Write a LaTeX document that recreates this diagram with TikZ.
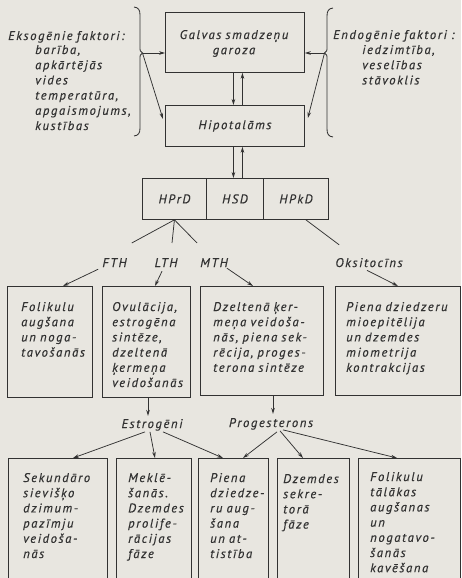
\documentclass[tikz,border=0pt]{standalone}
\usepackage{fontspec}
\setmainfont{PT Sans}
\newfontfamily\lbl[LetterSpace=13,FakeBold=0.5]{PT Sans}
\usetikzlibrary{arrows.meta,calc}
\definecolor{paper}{RGB}{232,230,224}
\definecolor{ink}{RGB}{50,50,50}

\begin{document}
\begin{tikzpicture}[x=1pt,y=-1pt,
  font=\lbl\itshape\fontsize{12.6}{15.2}\selectfont,
  box/.style={draw=ink, line width=0.85pt, inner sep=0pt, rectangle, anchor=north west, text=ink},
  txt/.style={text=ink, inner sep=0pt, text width=#1, align=left, anchor=base west},
  txt/.default=130pt,
  ctxt/.style={text=ink, inner sep=0pt, align=center, anchor=base},
  mctxt/.style={text=ink, inner sep=0pt, text width=140pt, align=center, anchor=base},
  link/.style={draw=ink, line width=0.75pt},
  arr/.style={link, -{Stealth[length=6pt,width=3.6pt]}},
  brace/.style={draw=ink, line width=0.85pt}]

\useasboundingbox (0,0) rectangle (461,578);
\clip (0,0) rectangle (461,578);
\fill[paper] (0,0) rectangle (461,578);

% ---- influencing factors ----
\node[txt] (exohead) at (8,40) {Eksogēnie faktori:};
\node[txt] (exolist) at (35,54) {barība,\\apkārtējās\\vides\\temperatūra,\\apgaismojums,\\kustības};
\node[txt=128pt] (endohead) at (333,39) {Endogēnie faktori :};
\node[txt=98pt] (endolist) at (362,54) {iedzimtība,\\veselības\\stāvoklis};

\draw[brace] (134,7) .. controls (138.5,7.5) and (140,10) .. (140,15) -- (140,47)
  .. controls (140,51) .. (142.5,53) .. controls (140,55) .. (140,59) -- (140,128)
  .. controls (140,133) and (138.5,135.5) .. (134,136);
\draw[brace] (333,8) .. controls (328.5,8.5) and (327,11) .. (327,16) -- (327,47)
  .. controls (327,51) .. (324.5,53) .. controls (327,55) .. (327,59) -- (327,129)
  .. controls (327,134) and (328.5,136.5) .. (333,137);
\coordinate (exotip) at (142.5,53);
\coordinate (endotip) at (324.5,53);

% ---- cortex and hypothalamus ----
\node[box, minimum width=139pt, minimum height=60pt] (galvas) at (165,12) {};
\node[mctxt] (galvastxt) at (234,39) {Galvas smadzeņu\\garoza};
\node[box, minimum width=139pt, minimum height=41pt] (hipo) at (165,105) {Hipotalāms};

\draw[arr] (exotip) -- (exotip -| galvas.west);
\draw[arr] (exotip) -- ($(hipo.north west)+(-2,14)$);
\draw[arr] (endotip) -- (endotip -| galvas.east);
\draw[arr] (endotip) -- ($(hipo.north east)+(3,13)$);

% ---- pituitary ----
\node[box, minimum width=64pt, minimum height=41pt] (hprd) at (142,178) {HPrD};
\node[box, minimum width=57pt, minimum height=41pt] (hsd) at (206,178) {HSD};
\node[box, minimum width=65pt, minimum height=41pt] (hpkd) at (263,178) {HPkD};

\draw[arr] ($(galvas.south)+(-1.5,0)$) -- ($(hipo.north)+(-1.5,0)$);
\draw[arr] ($(hipo.north)+(7.5,0)$) -- ($(galvas.south)+(7.5,0)$);
\draw[arr] ($(hipo.south)+(-1.5,0)$) -- ($(hsd.north)+(-1.5,0)$);
\draw[arr] ($(hsd.north)+(7.5,0)$) -- ($(hipo.south)+(7.5,0)$);

% ---- hormones ----
\node[ctxt] (fth) at (114.5,267) {FTH};
\node[ctxt] (lth) at (166,267) {LTH};
\node[ctxt] (mth) at (214,267) {MTH};
\node[ctxt] (oks) at (369,267) {Oksitocīns};

\draw[link] (hprd.south) -- ($(fth.north east)+(5,-15)$);
\draw[link] (hprd.south) -- ($(lth.north)+(6,-15)$);
\draw[link] (hprd.south) -- ($(mth.north west)+(-3,-15)$);
\draw[link] ($(hpkd.south)+(10,0)$) -- ($(oks.north west)+(4,-13)$);

% ---- effects of pituitary hormones ----
\node[box, minimum width=85pt, minimum height=111pt] (m1) at (7,286) {};
\node[box, minimum width=88pt, minimum height=111pt] (m2) at (102,286) {};
\node[box, minimum width=123pt, minimum height=109pt] (m3) at (200,286) {};
\node[box, minimum width=125pt, minimum height=109pt] (m4) at (335,286) {};

\node[txt=70pt] (m1t) at (21,311) {Folikulu\\augšana\\un noga-\\tavošanās};
\node[txt=78pt] (m2t) at (112,311) {Ovulācija,\\estrogēna\\sintēze,\\dzeltenā\\ķermeņa\\veidošanās};
\node[txt=108pt] (m3t) at (213,311) {Dzeltenā ķer-\\meņa veidoša-\\nās, piena sek-\\rēcija, proges-\\terona sintēze};
\node[txt=112pt] (m4t) at (346,311) {Piena dziedzeru\\mioepitēlija\\un dzemdes\\miometrija\\kontrakcijas};

\draw[arr] ($(fth.south west)+(-4,2)$) -- ($(m1.north west)+(56,0)$);
\draw[arr] ($(lth.south)+(-4,4)$) -- ($(m2.north west)+(53,0)$);
\draw[arr] ($(mth.south east)+(-1,1)$) -- ($(m3.north west)+(53,0)$);
\draw[arr] ($(oks.south)+(-2,3)$) -- ($(m4.north west)+(63,0)$);

% ---- ovarian hormones ----
\node[ctxt] (estr) at (152,428) {Estrogēni};
\node[ctxt] (prog) at (271,427) {Progesterons};

\coordinate (e2) at ($(m2.south west)+(46,0)$);
\coordinate (p3) at ($(m3.south west)+(73,0)$);
\draw[arr] (e2) -- ($(e2 |- estr.north)+(0,-3)$);
\draw[arr] (p3) -- ($(p3 |- prog.north)+(0,-4)$);

% ---- effects of ovarian hormones ----
\node[box, minimum width=99pt, minimum height=140pt] (b1) at (8,458) {};
\node[box, minimum width=75pt, minimum height=140pt] (b2) at (116,458) {};
\node[box, minimum width=70pt, minimum height=140pt] (b3) at (198,458) {};
\node[box, minimum width=72pt, minimum height=140pt] (b4) at (277,458) {};
\node[box, minimum width=102pt, minimum height=140pt] (b5) at (358,458) {};

\node[txt=84pt] (b1t) at (23,482) {Sekundāro\\sievišķo\\dzimum-\\pazīmju\\veidoša-\\nās};
\node[txt=63pt] (b2t) at (128,482) {Meklē-\\šanās.\\Dzemdes\\prolife-\\rācijas\\fāze};
\node[txt=58pt] (b3t) at (210,482) {Piena\\dziedze-\\ru aug-\\šana\\un at-\\tistība};
\node[txt=66pt] (b4t) at (283,483) {Dzemdes\\sekre-\\torā\\fāze};
\node[txt=90pt] (b5t) at (370,481) {Folikulu\\tālākas\\augšanas\\un\\nogatavo-\\šanās\\kavēšana};

\draw[arr] ($(estr.south)+(-7,1)$) -- ($(b1.north west)+(65,0)$);
\draw[arr] ($(estr.south)+(-2,1)$) -- ($(b2.north west)+(39,0)$);
\draw[arr] ($(estr.south)+(11,1)$) -- ($(b3.north west)+(25,0)$);
\draw[arr] ($(prog.south)+(6,2)$) -- ($(b3.north west)+(45,0)$);
\draw[arr] ($(prog.south)+(9,1)$) -- ($(b4.north west)+(26,0)$);
\draw[arr] ($(prog.south)+(12,0)$) -- ($(b5.north west)+(39,0)$);
\end{tikzpicture}
\end{document}
